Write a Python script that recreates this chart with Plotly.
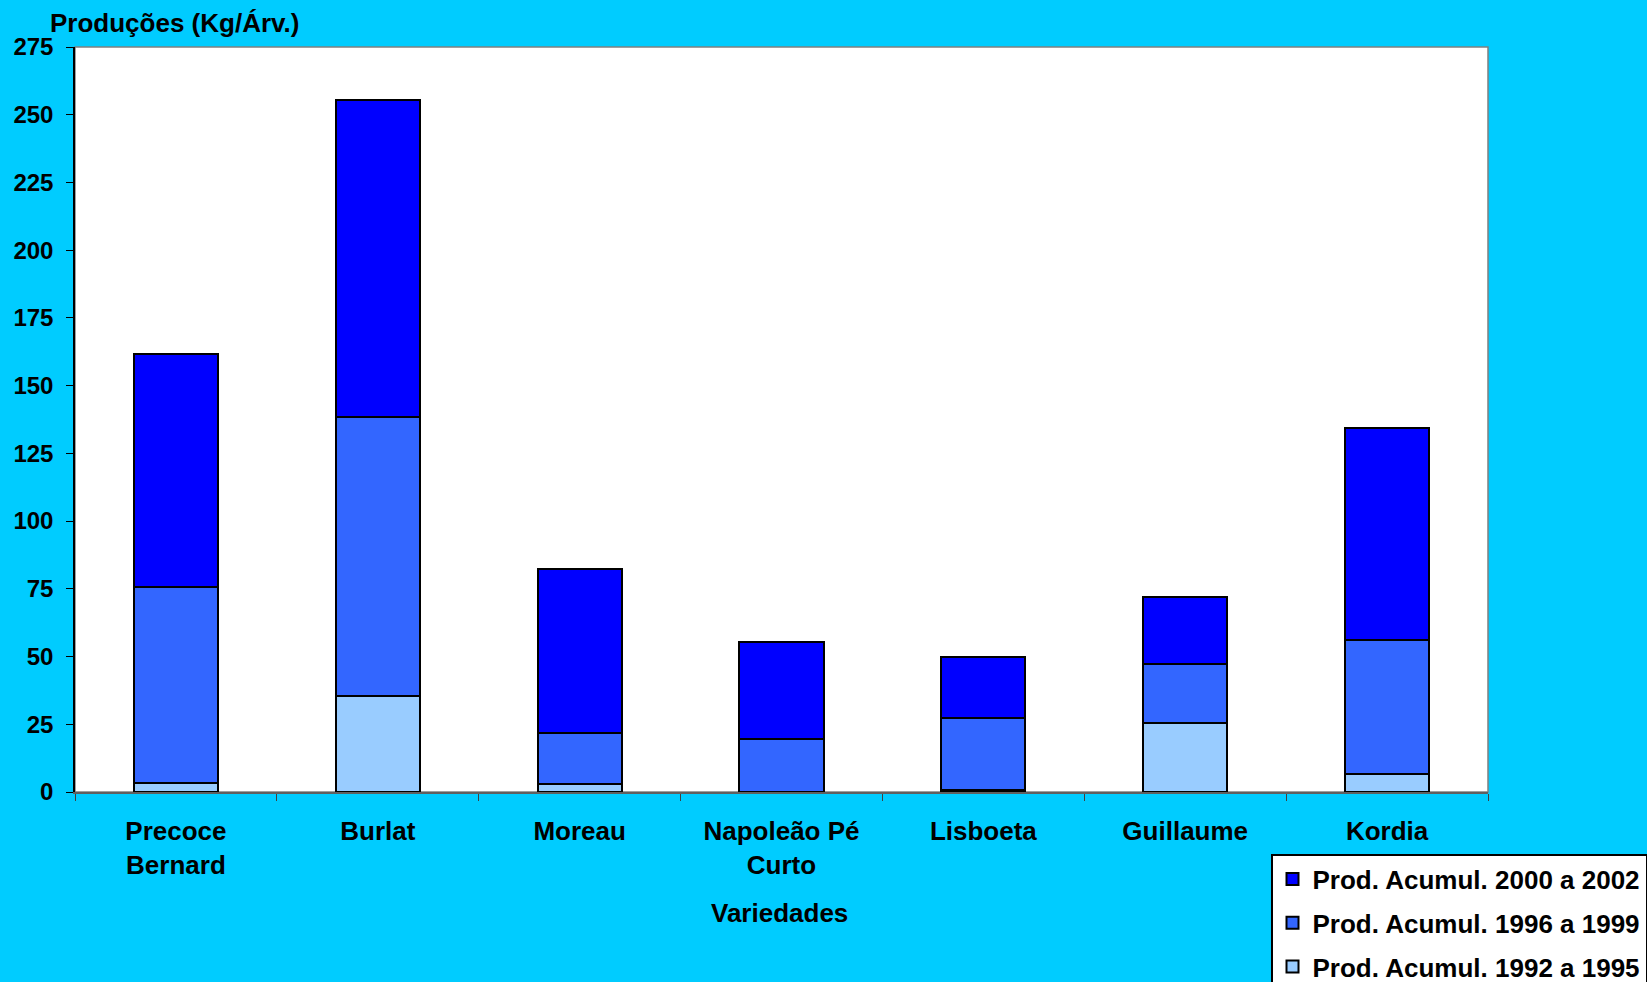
import plotly.graph_objects as go

# Cherry varieties and accumulated yield per period (kg per tree)
variedades = ["Precoce<br>Bernard", "Burlat", "Moreau", "Napoleão Pé<br>Curto",
              "Lisboeta", "Guillaume", "Kordia"]
prod_1992_1995 = [3.5, 35.3, 2.8, 0.0, 0.8, 25.6, 6.6]
prod_1996_1999 = [72.1, 103.2, 18.9, 19.4, 26.7, 21.7, 49.6]
prod_2000_2002 = [86.1, 117.1, 60.5, 36.1, 22.5, 24.5, 78.0]

series = [
    ("Prod. Acumul. 1992 a 1995", prod_1992_1995, "#99CCFF"),
    ("Prod. Acumul. 1996 a 1999", prod_1996_1999, "#3366FF"),
    ("Prod. Acumul. 2000 a 2002", prod_2000_2002, "#0000FF"),
]

FONT = "Liberation Sans, Arial, sans-serif"
W, H = 1647, 982
L, R, T, B = 75, 159, 47, 190
PW, PH = W - L - R, H - T - B

fig = go.Figure()
for i, (name, vals, color) in enumerate(series):
    fig.add_trace(go.Bar(
        x=variedades, y=vals, name=name, legendgroup=f"g{i}",
        legendrank=10 - i,
        marker=dict(color=color, line=dict(color="black", width=2)),
    ))

# grey frame around the plotting area
fig.add_shape(type="rect", xref="paper", yref="paper", x0=0, x1=1, y0=0, y1=1,
              line=dict(color="#808080", width=1.5), layer="below")

fig.add_annotation(text="Produções (Kg/Árv.)", xref="paper", yref="paper",
                   x=(48 - L) / PW, y=1 + (T - 23) / PH,
                   xanchor="left", yanchor="middle", showarrow=False,
                   font=dict(family=FONT, size=26, color="black", weight="bold"))
fig.add_annotation(text="Variedades", xref="paper", yref="paper",
                   x=(779 - L) / PW, y=-(913 - (H - B)) / PH,
                   xanchor="center", yanchor="middle", showarrow=False,
                   font=dict(family=FONT, size=26, color="black", weight="bold"))

fig.update_layout(
    width=W, height=H,
    margin=dict(l=L, r=R, t=T, b=B, autoexpand=False),
    paper_bgcolor="#00CCFF", plot_bgcolor="white",
    barmode="stack", bargap=0.583,
    font=dict(family=FONT, size=26, color="black", weight="bold"),
    showlegend=True,
    legend=dict(
        x=(1271 - L) / PW, y=-(854 - (H - B)) / PH,
        xanchor="left", yanchor="top",
        bgcolor="white", bordercolor="black", borderwidth=1.5,
        traceorder="grouped", tracegroupgap=7,
        font=dict(family=FONT, size=26, color="black", weight="bold"),
    ),
    xaxis=dict(
        showline=True, linecolor="#606060", linewidth=1.5,
        ticks="outside", tickson="boundaries", ticklen=7, tickcolor="#404040",
        ticklabelstandoff=15, showgrid=False,
    ),
    yaxis=dict(
        range=[0, 275], dtick=25, tick0=0,
        showline=True, linecolor="black", linewidth=1.5,
        ticks="outside", ticklen=7, tickcolor="black",
        ticklabelstandoff=8, showgrid=False, zeroline=False,
        tickfont=dict(size=24),
    ),
)

fig.write_html("out.html")
